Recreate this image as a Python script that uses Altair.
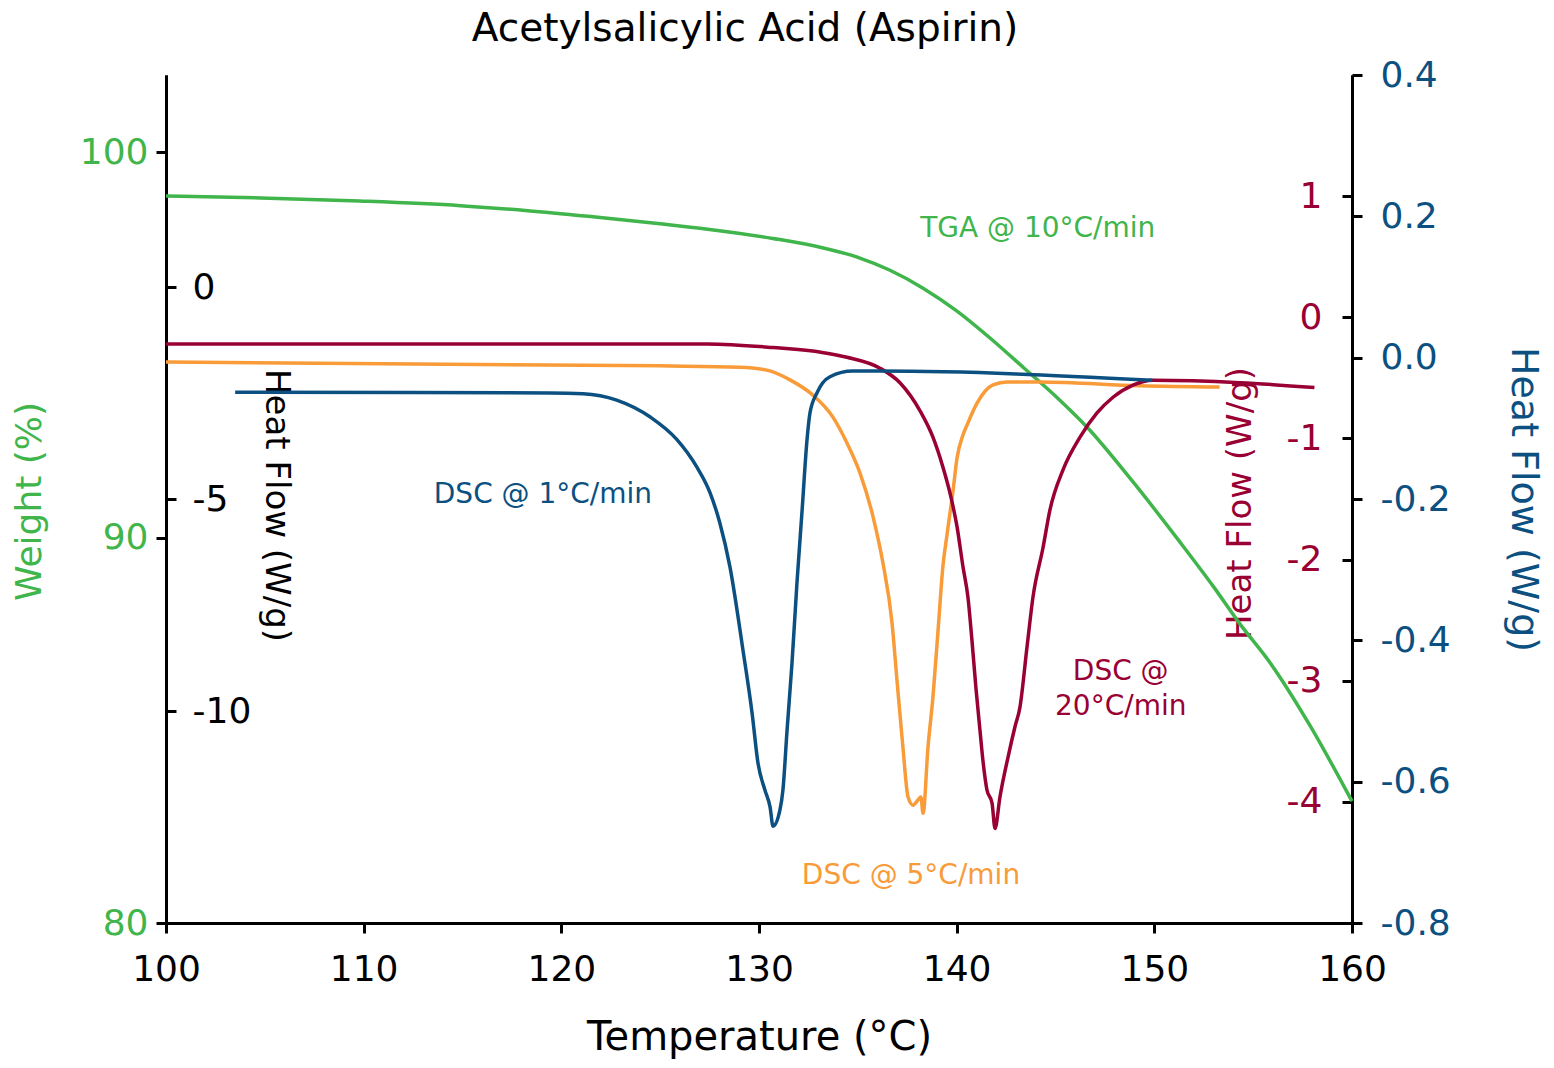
import altair as alt
import pandas as pd

TITLE = "Acetylsalicylic Acid (Aspirin)"
X_TITLE = "Temperature (°C)"
X_TICKS = [100, 110, 120, 130, 140, 150, 160]

# TGA @ 10°C/min  (Weight %)
tga_t = [100.0, 104.8, 109.8, 114.9, 118.3, 121.6, 125.0, 127.4, 130.7, 133.2, 135.0, 136.6,
         138.3, 140.0, 141.7, 143.4, 145.1, 146.6, 148.8, 151.3, 153.0, 154.3, 155.9, 157.9, 160.0]
tga_w = [98.86, 98.81, 98.73, 98.61, 98.48, 98.32, 98.14, 98.00, 97.76, 97.52, 97.27, 96.94,
         96.47, 95.88, 95.17, 94.40, 93.62, 92.86, 91.52, 89.88, 88.72, 87.78, 86.72, 85.10, 83.16]

# DSC @ 1°C/min (right blue axis, W/g)
dsc1_t = [103.5, 119.4, 121.1, 122.8, 124.5, 125.85, 126.86, 127.52, 128.02, 128.53, 129.19,
          129.65, 129.95, 130.3, 130.56, 130.71, 131.06, 131.21, 131.42, 131.67, 131.92, 132.18,
          132.43, 132.58, 132.93, 133.59, 134.75, 136.1, 149.9]
dsc1_v = [-0.049, -0.050, -0.051, -0.060, -0.084, -0.116, -0.155, -0.191, -0.234, -0.296,
          -0.414, -0.503, -0.574, -0.612, -0.636, -0.663, -0.640, -0.612, -0.527, -0.432, -0.319,
          -0.216, -0.116, -0.078, -0.050, -0.027, -0.019, -0.019, -0.032]

# DSC @ 5°C/min (inner black axis, W/g)
dsc5_t = [100.0, 125.0, 129.0, 130.4, 131.57, 132.73, 133.74, 134.45, 135.11, 135.77, 136.27,
          136.73, 136.98, 137.28, 137.54, 137.79, 138.04, 138.19, 138.3, 138.55, 138.8, 139.06,
          139.31, 139.51, 139.81, 140.02, 140.32, 140.52, 141.03, 141.84, 142.55, 144.22, 149.27,
          153.3]
dsc5_v = [-1.77, -1.86, -1.89, -1.96, -2.19, -2.55, -3.07, -3.68, -4.39, -5.42, -6.51, -7.92,
          -9.27, -10.85, -12.03, -12.22, -12.10, -12.03, -12.41, -10.85, -9.67, -8.09, -6.56,
          -5.85, -4.83, -4.03, -3.49, -3.26, -2.74, -2.31, -2.24, -2.24, -2.33, -2.36]

# DSC @ 20°C/min (inner red axis, W/g)
dsc20_t = [100.0, 127.4, 130.7, 133.2, 134.45, 136.12, 137.13, 138.14, 138.8, 139.31, 139.66,
           140.02, 140.32, 140.57, 140.77, 140.98, 141.18, 141.33, 141.53, 141.79, 141.94, 142.19,
           142.6, 142.95, 143.2, 143.56, 143.86, 144.37, 144.72, 145.38, 146.24, 147.1, 147.91,
           148.92, 149.93, 154.33, 158.1]
dsc20_v = [-0.22, -0.22, -0.25, -0.29, -0.33, -0.42, -0.54, -0.77, -0.99, -1.24, -1.45, -1.73,
           -2.06, -2.31, -2.66, -3.07, -3.41, -3.66, -3.90, -4.01, -4.22, -3.96, -3.63, -3.38,
           -3.22, -2.72, -2.31, -1.90, -1.59, -1.26, -0.99, -0.79, -0.66, -0.56, -0.52, -0.54,
           -0.58]

# annotations (label, temperature, value on the series' own axis)
tga_lbl = (["TGA @ 10°C/min"], [144.1], [98.0])
dsc1_lbl = (["DSC @ 1°C/min"], [119.07], [-0.194])
dsc5_lbl = (["DSC @ 5°C/min"], [137.69], [-13.89])
dsc20_lbl = (["DSC @", "20°C/min"], [148.3, 148.3], [-2.93, -3.22])

W, H = 1186, 848
FONT = "DejaVu Sans"
GREEN = "#3fb54b"
RED = "#990033"
ORANGE = "#f89b38"
BLUE = "#0b5080"

def xenc():
    return alt.X("t:Q", scale=alt.Scale(domain=[100, 160], nice=False, zero=False),
                 axis=alt.Axis(values=X_TICKS, title=X_TITLE, grid=False, domainColor="black",
                               domainWidth=3, tickColor="black", tickWidth=3, tickSize=10,
                               labelFont=FONT, labelFontSize=36, labelColor="black",
                               labelPadding=19, labelOverlap=False, labelFlush=False,
                               titleFont=FONT, titleFontSize=40, titleFontWeight="normal",
                               titleColor="black", titleY=126, titleBaseline="alphabetic"))

def yaxis(domain, values, title, color, orient, offset, tx, ty, angle, tsize, lpad, lexpr):
    return alt.Y("v:Q", scale=alt.Scale(domain=domain, nice=False, zero=False),
                 axis=alt.Axis(orient=orient, offset=offset, values=values, title=title, grid=False,
                               domainColor="black", domainWidth=3, tickColor="black", tickWidth=3,
                               tickSize=10, labelFont=FONT, labelFontSize=36, labelColor=color,
                               labelPadding=lpad, labelOverlap=False, labelFlush=False,
                               labelExpr=lexpr,
                               titleFont=FONT, titleFontSize=tsize, titleFontWeight="normal",
                               titleColor=color, titleAngle=angle, titleX=tx, titleY=ty,
                               titleAlign="center", titleBaseline="middle"))

int_expr = "(datum.value < 0 ? '-' : '') + abs(datum.value)"
dec_expr = "(datum.value < 0 ? '-' : '') + format(abs(datum.value), '.1f')"

def series(ts, vs, lbl, color, y):
    df = pd.DataFrame({"t": ts, "v": vs})
    ldf = pd.DataFrame({"label": lbl[0], "t": lbl[1], "v": lbl[2]})
    line = alt.Chart(df).mark_line(color=color, strokeWidth=3.5, interpolate="monotone").encode(x=xenc(), y=y)
    text = alt.Chart(ldf).mark_text(font=FONT, fontSize=28, color=color, align="center",
                                    baseline="middle").encode(x=xenc(), y=y, text="label:N")
    return alt.layer(line, text)

y_green = yaxis([80, 102], [80, 90, 100], "Weight (%)", GREEN, "left", 0, -137, 426, 270, 36, 8, int_expr)
y_black = yaxis([-15, 5], [0, -5, -10], "Heat Flow (W/g)", "black", "right", -W, 109, 430, 90, 34, 16, int_expr)
y_red = yaxis([-5, 2], [1, 0, -1, -2, -3, -4], "Heat Flow (W/g)", RED, "left", -W, -112, 428, 270, 34, 20, int_expr)
y_blue = yaxis([-0.8, 0.4], [0.4, 0.2, 0.0, -0.2, -0.4, -0.6, -0.8], "Heat Flow (W/g)", BLUE, "right", 0, 170, 424, 90, 38, 18, dec_expr)

g = series(tga_t, tga_w, tga_lbl, GREEN, y_green)
o = series(dsc5_t, dsc5_v, dsc5_lbl, ORANGE, y_black)
r = series(dsc20_t, dsc20_v, dsc20_lbl, RED, y_red)
b = series(dsc1_t, dsc1_v, dsc1_lbl, BLUE, y_blue)

chart = alt.layer(g, o, r, b).resolve_scale(y="independent").resolve_axis(y="independent").properties(
    width=W, height=H,
    title=alt.TitleParams(TITLE, font=FONT, fontSize=39, fontWeight="normal", color="black",
                          anchor="middle", frame="group", offset=8, dx=-14),
    autosize=alt.AutoSizeParams(type="none"),
    padding={"left": 158, "top": 67, "right": 194, "bottom": 137},
).configure_view(stroke=None)

chart.save("out.html", embed_options={"renderer": "svg", "actions": False})
